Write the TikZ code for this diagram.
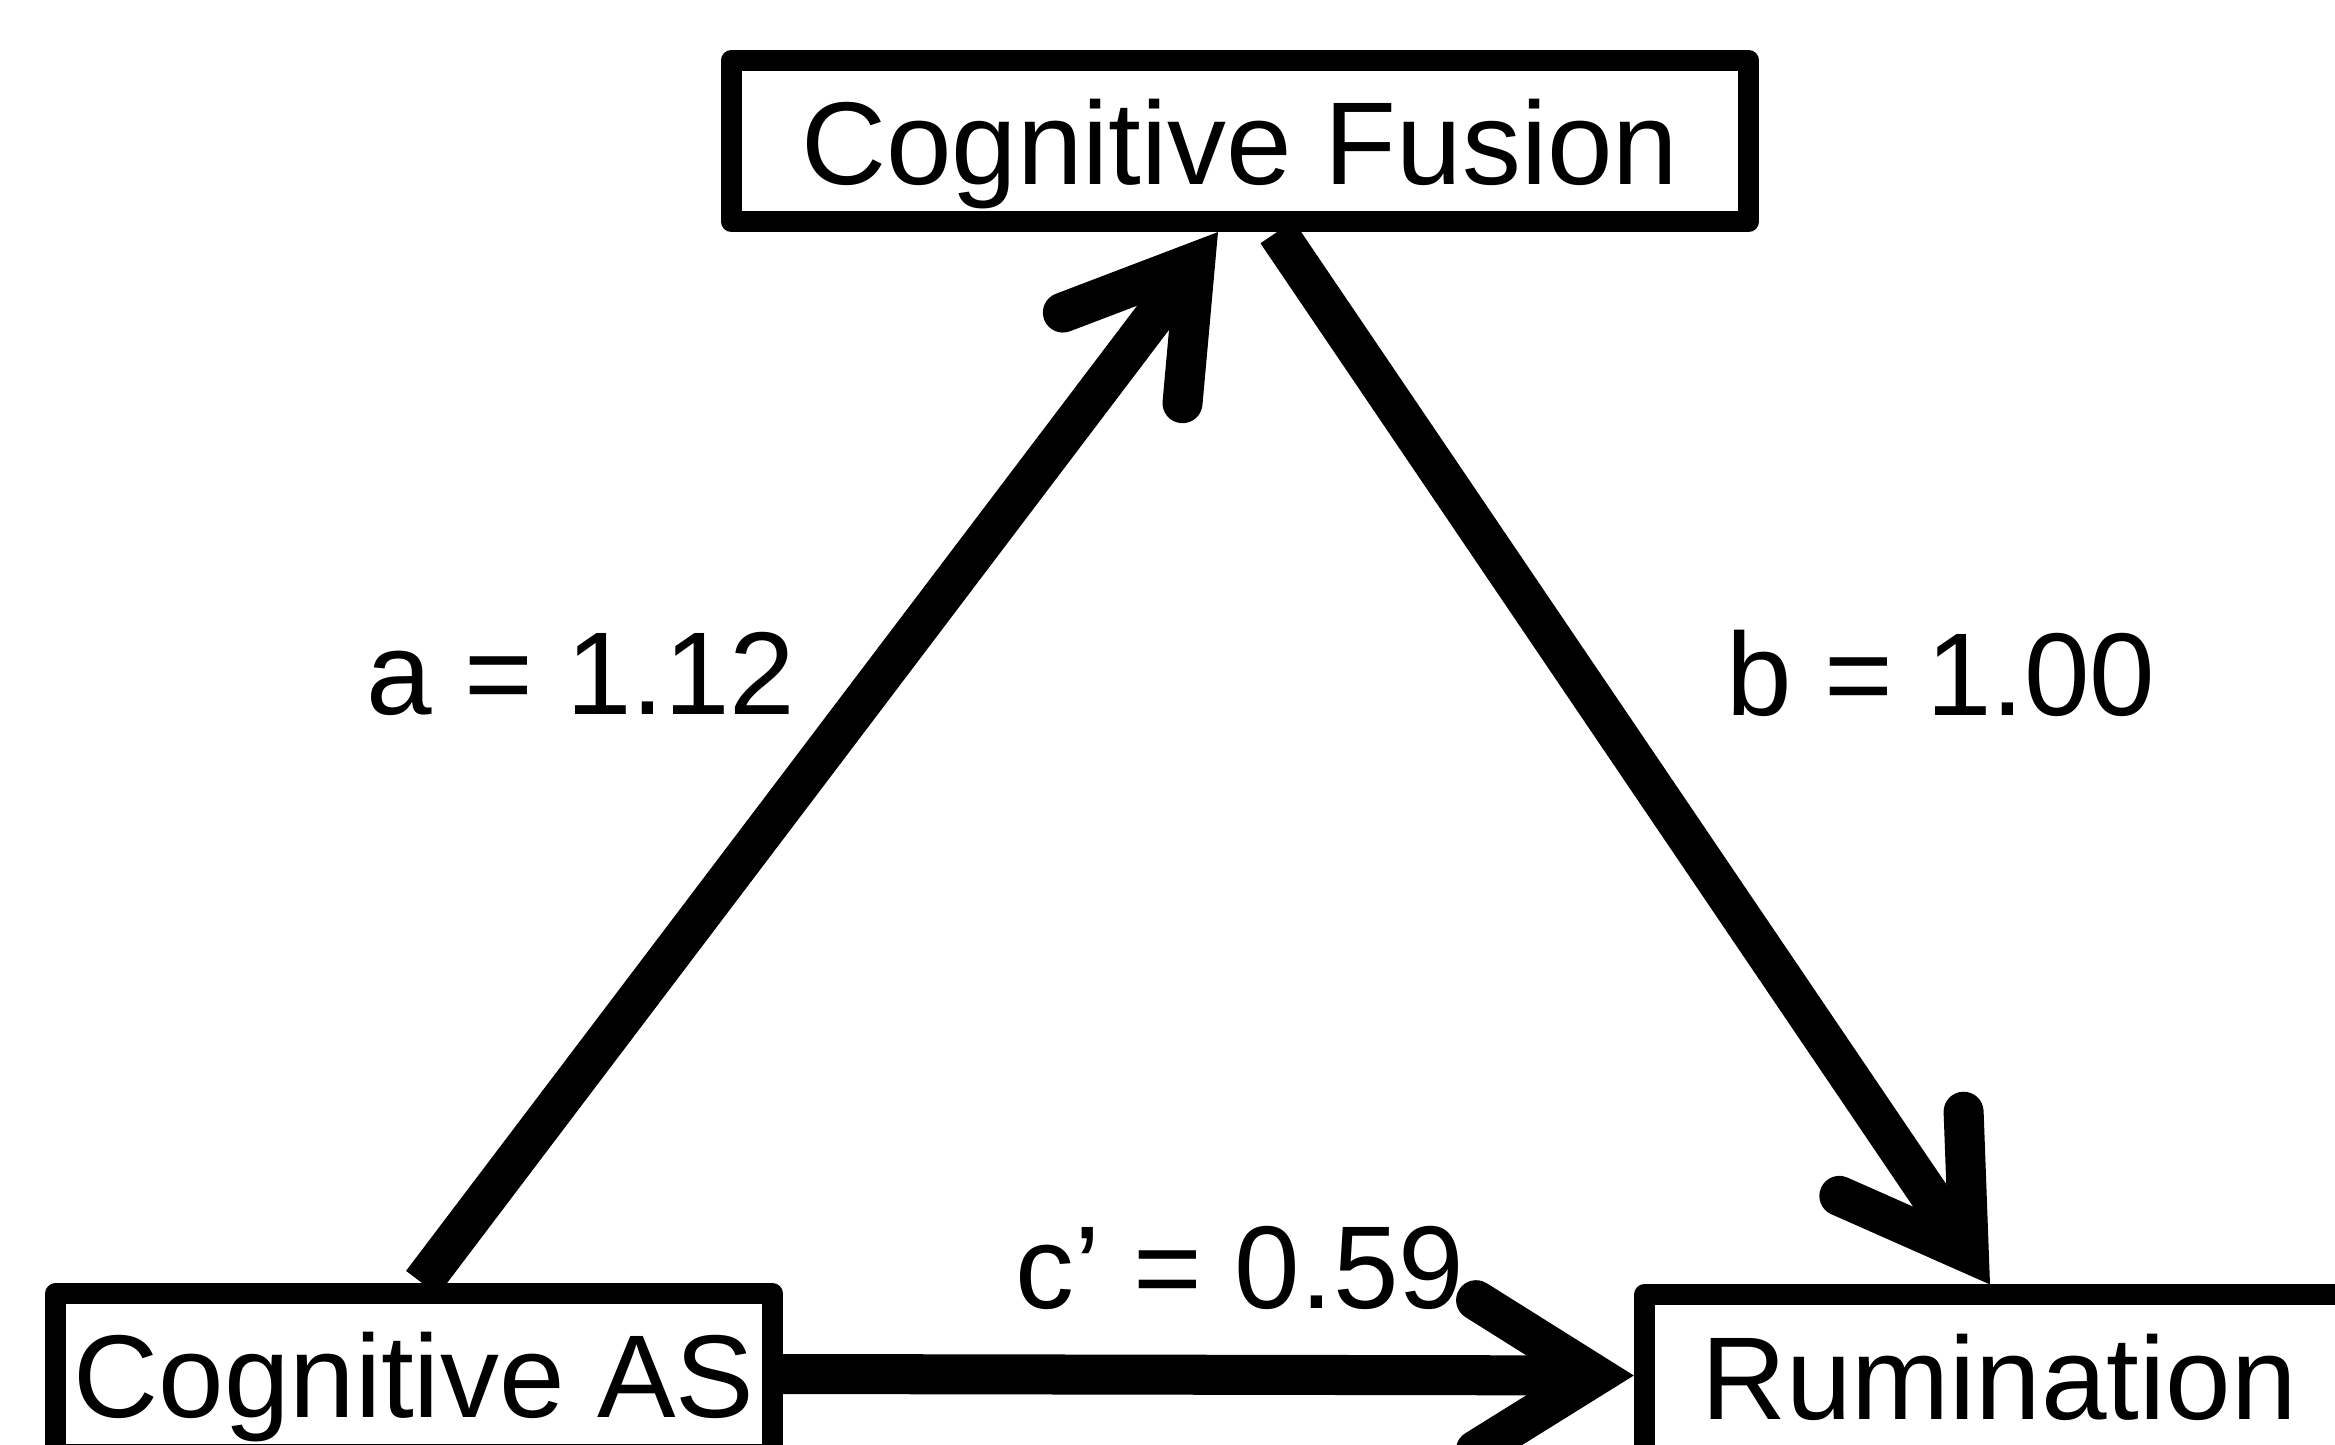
\documentclass[tikz,border=0pt]{standalone}
\usepackage{fontspec}
\setmainfont{Liberation Sans}
\usetikzlibrary{arrows.meta,backgrounds}

\begin{document}
\begin{tikzpicture}[x=0.01cm, y=-0.01cm,
		every node/.style={font=\fontsize{33.5}{40}\selectfont, inner sep=0pt},
		varbox/.style={draw, fill=white, line width=0.21cm, line join=round, minimum height=1.61cm, text height=26pt, text depth=1pt},
		effect/.style={line width=0.4cm, -{Straight Barb[length=1.2cm, width=1.5cm, line cap=round, line join=miter]}}]
		\useasboundingbox (0,0) rectangle (2335,1445);

		\node[varbox, minimum width=10.17cm] (fusion) at (1240,141) {Cognitive Fusion};
		\node[varbox, minimum width=7.16cm] (cas) at (414,1374) {Cognitive AS};
		\node[varbox, minimum width=7.09cm] (rum) at (1999,1375.5) {Rumination};

		\node[anchor=base] (la) at (581,714) {a = 1.12};
		\node[anchor=base] (lb) at (1941,715) {b = 1.00};
		\node[anchor=base] (lc) at (1240,1308) {c’ = 0.59};

		\begin{scope}[on background layer]
			\draw[effect] ([xshift=0.08cm]cas.north) -- ([xshift=-0.22cm]fusion.south);
			\draw[effect] ([xshift=0.37cm]fusion.south) -- ([xshift=-0.09cm]rum.north);
			\draw[effect] (cas.east) -- (rum.west);
		\end{scope}
	\end{tikzpicture}
\end{document}
